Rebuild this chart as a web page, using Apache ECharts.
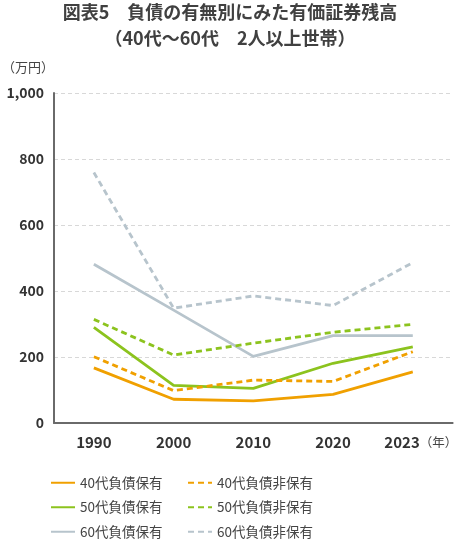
<!DOCTYPE html>
<html><head><meta charset="utf-8">
<script src="https://cdn.jsdelivr.net/npm/echarts@6/dist/echarts.min.js"></script>
<style>html,body{margin:0;padding:0;background:#fff}#c{width:460px;height:546px}</style>
</head><body><div id="c"></div>
<script>
const years = ['1990','2000','2010','2020','2023'];
const s40Debt = [167, 72, 67, 87, 155];
const s40NoDebt = [201, 98, 130, 126, 216];
const s50Debt = [290, 114, 105, 181, 231];
const s50NoDebt = [314, 206, 242, 275, 299];
const s60Debt = [481, 342, 202, 265, 265];
const s60NoDebt = [759, 348, 385, 356, 486];
const yTicks = [0, 200, 400, 600, 800, 1000];

const F = '"Noto Sans CJK JP", "Noto Sans", sans-serif';
const orange = '#f0a000', green = '#8cc31e', gray = '#b7c4cc';
const dash = [6, 4];
function mk(name, data, color, dashed) {
  return {name, type:'line', data, symbol:'none', smooth:false,
    lineStyle:{color, width:2.8, type: dashed ? dash : 'solid'},
    itemStyle:{color}};
}
function legend(data, left) {
  return {data, left, top:476, orient:'vertical', padding:0, itemWidth:24, itemHeight:14, itemGap:11,
    itemStyle:{opacity:0}, textStyle:{fontFamily:F, fontSize:13.5, color:'#444'}};
}
const chart = echarts.init(document.getElementById('c'));
chart.setOption({
  backgroundColor:'#fff',
  animation:false,
  textStyle:{fontFamily:F},
  title:{text:'図表5　負債の有無別にみた有価証券残高\n（40代〜60代　2人以上世帯）', left:'center', top:-6,
    textStyle:{fontFamily:F, fontSize:18, fontWeight:'bold', color:'#404040', lineHeight:26}},
  grid:{left:54, right:5, top:93, bottom:123},
  xAxis:{type:'category', data:years, boundaryGap:true,
    axisLine:{lineStyle:{color:'#6a6a6a', width:2}}, axisTick:{show:false},
    axisLabel:{interval:0, fontFamily:F, fontSize:15, fontWeight:'bold', color:'#333', margin:12,
      formatter:(v,i)=> i === years.length-1 ? '{y|'+v+'}{u|（年）}' : v,
      rich:{y:{fontFamily:F, fontSize:15, fontWeight:'bold', color:'#333', padding:[0,0,0,16]},
            u:{fontFamily:F, fontSize:12.5, fontWeight:'normal', color:'#444'}}}},
  yAxis:{type:'value', min:yTicks[0], max:yTicks[yTicks.length-1], interval:200,
    axisLine:{show:true, lineStyle:{color:'#6a6a6a', width:2}}, axisTick:{show:false},
    splitLine:{lineStyle:{color:'#d8d8d8', type:[4,3], width:1}},
    axisLabel:{fontFamily:F, fontSize:14, fontWeight:'bold', color:'#333', margin:10,
      formatter:v=>v.toLocaleString('en-US')}},
  graphic:[
    {type:'text', left:2, top:61, style:{text:'（万円）', font:'13px '+F, fill:'#444'}}
  ],
  legend:[
    legend(['40代負債保有','50代負債保有','60代負債保有'], 50),
    legend(['40代負債非保有','50代負債非保有','60代負債非保有'], 187)
  ],
  series:[
    mk('60代負債非保有', s60NoDebt, gray, true),
    mk('60代負債保有', s60Debt, gray, false),
    mk('50代負債非保有', s50NoDebt, green, true),
    mk('50代負債保有', s50Debt, green, false),
    mk('40代負債非保有', s40NoDebt, orange, true),
    mk('40代負債保有', s40Debt, orange, false)
  ]
});
</script></body></html>
